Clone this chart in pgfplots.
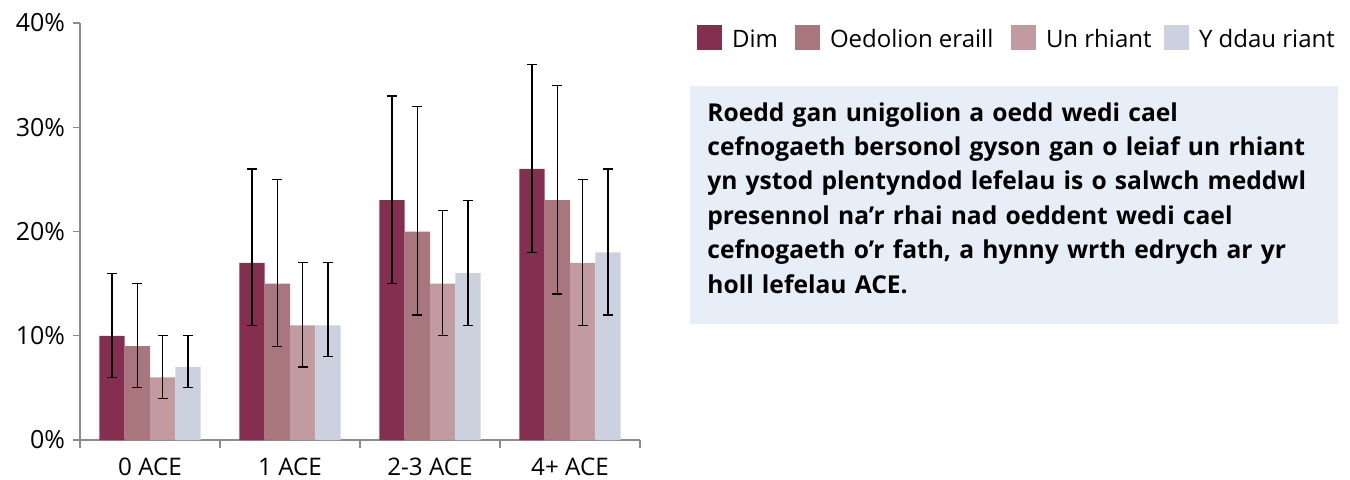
\documentclass[border=0pt]{standalone}
\usepackage{pgfplots}
\pgfplotsset{compat=1.18}
\usepackage{pgfplotstable}
\usepackage{fontspec}
\setmainfont{Open Sans}
\definecolor{cDim}{RGB}{132,47,80}
\definecolor{cOed}{RGB}{168,118,125}
\definecolor{cUn}{RGB}{194,155,160}
\definecolor{cY}{RGB}{203,209,222}
\definecolor{cBox}{RGB}{231,238,248}
\definecolor{cAxis}{RGB}{140,140,140}
\newcommand\tlfont{\fontsize{12.5}{15}\selectfont}
\newcommand\xlfont{\fontsize{12.1}{15}\selectfont}
\newcommand\lgfont{\fontsize{12}{15}\selectfont}

\pgfplotstableread{
x y ep em
0 10 6 4
1 17 9 6
2 23 10 8
3 26 10 8
}\tDim
\pgfplotstableread{
x y ep em
0 9 6 4
1 15 10 6
2 20 12 8
3 23 11 9
}\tOed
\pgfplotstableread{
x y ep em
0 6 4 2
1 11 6 4
2 15 7 5
3 17 8 6
}\tUn
\pgfplotstableread{
x y ep em
0 7 3 2
1 11 6 3
2 16 7 5
3 18 8 6
}\tY

\begin{document}
\begin{tikzpicture}
\path[use as bounding box] (0,0) rectangle (675pt,239.5pt);
\begin{axis}[
  at={(40pt,19.5pt)}, anchor=south west,
  scale only axis, width=280pt, height=208.5pt,
  ybar=0pt, bar width=12.65pt,
  xmin=-0.5, xmax=3.5, ymin=0, ymax=40,
  axis x line=bottom, axis y line=left,
  axis line style={draw=cAxis, line width=0.7pt, -},
  tick align=outside,
  major tick length=3.5pt, minor tick length=4pt,
  xtick={0,1,2,3},
  xticklabels={0 ACE, 1 ACE, 2-3 ACE, 4+ ACE},
  minor xtick={-0.5,0.5,1.5,2.5,3.5},
  major x tick style={draw=none},
  minor x tick style={draw=cAxis, line width=0.7pt},
  ytick={0,10,20,30,40},
  y tick style={draw=cAxis, line width=0.7pt},
  yticklabel={\pgfmathprintnumber{\tick}\%},
  /pgf/number format/assume math mode=true,
  yticklabel style={font=\tlfont, inner sep=0pt, anchor=east, xshift=-3.8pt},
  xticklabel style={font=\xlfont, inner sep=0pt, anchor=north, yshift=-5.5pt},
  clip=false,
  error bars/error bar style={black, line width=0.6pt},
  error bars/error mark options={black, rotate=90, mark size=2.5pt, line width=0.6pt},
  area legend,
  legend image code/.code={\fill[#1] (0pt,-1.25pt) rectangle (12.5pt,11.25pt);},
  legend columns=4,
  legend style={at={(1.1018,0.9652)}, anchor=west, draw=none, fill=none,
    inner sep=0pt, outer sep=0pt, font=\lgfont,
    nodes={inner sep=0pt, anchor=base west},
    /tikz/every odd column/.append style={column sep=5pt},
    /tikz/every even column/.append style={column sep=0pt}},
]
\addplot[fill=cDim, draw=none, error bars/.cd, y dir=both, y explicit]
  table[x=x, y=y, y error plus=ep, y error minus=em]{\tDim};
\addlegendentry{\makebox[31.5pt][l]{Dim}}
\addplot[fill=cOed, draw=none, error bars/.cd, y dir=both, y explicit]
  table[x=x, y=y, y error plus=ep, y error minus=em]{\tOed};
\addlegendentry{\makebox[90.5pt][l]{Oedolion eraill}}
\addplot[fill=cUn, draw=none, error bars/.cd, y dir=both, y explicit]
  table[x=x, y=y, y error plus=ep, y error minus=em]{\tUn};
\addlegendentry{\makebox[59pt][l]{Un rhiant}}
\addplot[fill=cY, draw=none, error bars/.cd, y dir=both, y explicit]
  table[x=x, y=y, y error plus=ep, y error minus=em]{\tY};
\addlegendentry{Y ddau riant}

\node[fill=cBox, minimum width=324pt, minimum height=119pt, inner sep=0pt, anchor=north west]
  at (axis description cs:1.0893,0.849) {};
\node[inner sep=0pt, anchor=north west, align=left, text width=320pt,
  font=\fontsize{12.3}{17.2}\selectfont\bfseries]
  at (axis description cs:1.1196,0.8106)
  {Roedd gan unigolion a oedd wedi cael\\
   cefnogaeth bersonol gyson gan o leiaf un rhiant\\
   yn ystod plentyndod lefelau is o salwch meddwl\\
   presennol na’r rhai nad oeddent wedi cael\\
   cefnogaeth o’r fath, a hynny wrth edrych ar yr\\
   holl lefelau ACE.};
\end{axis}
\end{tikzpicture}
\end{document}
